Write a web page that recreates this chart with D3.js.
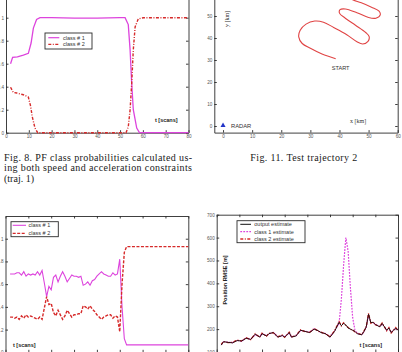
<!DOCTYPE html>
<html>
<head>
<meta charset="utf-8">
<script src="https://cdn.jsdelivr.net/npm/d3@7"></script>
<style>
  body { margin: 0; background: #fff; }
  svg { display: block; }
  .frame path.domain, .frame .tick line { stroke: #2a2a2a; stroke-width: 0.9; }
  .frame .tick text { font-family: "Liberation Sans", Arial, sans-serif; font-size: 4.6px; fill: #555; }
  .lbl { font-family: "Liberation Sans", Arial, sans-serif; font-size: 5.5px; fill: #333; }
  .bold { font-weight: bold; fill: #222; }
  .serif { font-family: "Liberation Serif", "Times New Roman", serif; }
  .caption { font-family: "Liberation Serif", "Times New Roman", serif; font-size: 10px; fill: #1a1a1a; }
</style>
</head>
<body>
<svg id="page" width="402" height="352"></svg>
<script>
// ---- Fig. 8 data (PF class probabilities, traj. 1)
var p1Class1T = [2, 2.9, 5, 7.6, 9.8, 11, 12, 13.4, 14.9, 20, 30, 40, 50, 52.2, 53.6, 54.4, 55.1, 55.8, 57.3, 58.5, 70, 80];
var p1Class1V = [0.60, 0.655, 0.66, 0.675, 0.69, 0.78, 0.91, 0.985, 1.0, 1.0, 0.997, 0.996, 1.0, 1.0, 0.94, 0.72, 0.43, 0.2, 0.04, 0, 0, 0];
var p1Class2T = [2, 3.2, 4.7, 7.6, 9.8, 10.8, 11.5, 12.7, 13.9, 20, 30, 40, 50, 52.6, 53.6, 54.4, 55.1, 55.8, 56.6, 58, 60.2, 70, 80];
var p1Class2V = [0.395, 0.35, 0.345, 0.33, 0.31, 0.23, 0.14, 0.04, 0, 0, 0, 0, 0, 0, 0.05, 0.2, 0.43, 0.72, 0.92, 0.99, 1.0, 1.0, 1.0];
var probTicks = [0, 0.2, 0.4, 0.6, 0.8, 1];
var scanTicks = [0, 10, 20, 30, 40, 50, 60, 70, 80];

// ---- Fig. 11 data (test trajectory 2, km)
var trajX = [38.7, 34, 30, 27.2, 26, 26.5, 28.5, 31.5, 34.5, 38, 42.5, 46, 48, 49.8, 50.2, 49, 45.5, 42, 40, 40.2, 42, 46, 50, 52.5, 54, 53.6, 51, 47.5, 44.7, 42.5];
var trajY = [30.6, 32.7, 35.3, 37.5, 40.5, 43.5, 46.3, 47.7, 47.2, 44.8, 41.5, 38.3, 37.3, 38.5, 40.6, 42.5, 45.8, 49, 51.3, 52.9, 53.2, 51.5, 49.3, 49, 50.5, 52.2, 54, 56, 57.3, 58.7];
var kmTicks = [0, 10, 20, 30, 40, 50, 60];
var radar = [0, 0];

// ---- bottom-left data (class probabilities)
var p3Scans = [2, 3, 4, 5, 6, 7, 8, 9, 10, 11, 12, 13, 14, 15, 16, 17, 18, 19, 20, 21, 22, 23, 24, 25, 26, 27, 28, 29, 30, 31, 32, 33, 34, 35, 36, 37, 38, 39, 40, 41, 42, 43, 44, 45, 46, 47, 48, 49, 50, 51, 52, 53, 80];
var p3Class1 = [0.69, 0.69, 0.69, 0.70, 0.70, 0.68, 0.71, 0.67, 0.69, 0.68, 0.69, 0.68, 0.71, 0.68, 0.72,
  0.61, 0.49, 0.58, 0.55, 0.66, 0.68, 0.62, 0.67, 0.71, 0.67, 0.62, 0.65, 0.68, 0.67, 0.67, 0.66, 0.67,
  0.59, 0.60, 0.62, 0.59, 0.63, 0.64, 0.67, 0.69, 0.71, 0.69, 0.68, 0.67, 0.67, 0.70, 0.68, 0.69,
  0.82, 0.40, 0.12, 0.065, 0.065];
var p3Class2 = [0.31, 0.31, 0.30, 0.31, 0.29, 0.32, 0.30, 0.33, 0.31, 0.32, 0.31, 0.30, 0.29, 0.31, 0.29,
  0.39, 0.49, 0.42, 0.43, 0.35, 0.32, 0.37, 0.33, 0.29, 0.32, 0.37, 0.34, 0.31, 0.33, 0.33, 0.34, 0.34,
  0.41, 0.40, 0.38, 0.41, 0.38, 0.36, 0.33, 0.31, 0.29, 0.31, 0.32, 0.33, 0.33, 0.30, 0.32, 0.31,
  0.18, 0.60, 0.88, 0.93, 0.93];

// ---- bottom-right data (position RMSE, m)
var p4Scans = [2, 3, 5, 7, 9, 11, 13, 15, 17, 19, 20, 22, 23, 25, 27, 29, 30, 32, 33, 35, 37, 39, 41, 43, 45, 46, 48, 50, 52, 54,
  55, 56, 57, 58, 59, 60, 61, 62, 64, 65, 66, 67, 68, 69, 70, 72, 73, 75, 76, 77, 79, 80];
var outputRmse = [130, 145, 142, 140, 150, 148, 160, 155, 178, 165, 180, 170, 180, 185, 165, 172, 165, 185, 165, 170, 195, 190, 185, 200, 192, 185, 180, 165, 190, 230,
  215, 225, 218, 205, 200, 195, 190, 180, 175, 190, 210, 265, 228, 230, 220, 210, 225, 195, 205, 185, 205, 195];
var class1Rmse = [132, 144, 143, 141, 151, 147, 161, 156, 176, 166, 181, 171, 179, 186, 166, 171, 166, 184, 166, 171, 194, 191, 186, 201, 191, 186, 181, 166, 192, 225,
  330, 480, 600, 540, 380, 250, 195, 182, 176, 189, 209, 262, 229, 229, 221, 211, 224, 196, 204, 186, 204, 196];
var class2Rmse = [133, 146, 141, 142, 152, 149, 162, 154, 180, 164, 182, 169, 182, 184, 167, 174, 164, 187, 166, 172, 197, 189, 186, 203, 190, 187, 179, 167, 193, 233,
  214, 228, 216, 207, 199, 197, 188, 182, 176, 192, 212, 270, 226, 232, 219, 212, 227, 193, 207, 183, 207, 193];
var rmseTicks = [100, 200, 300, 400, 500, 600, 700];

var magenta = '#dd44dd';
var red = '#d62a2a';

var svg = d3.select('#page');

// Matlab style box with inward ticks
function frame(g, x, y, xt, yt, xfmt, yfmt) {
  var xr = x.range(), yr = y.range();
  g.append('g').attr('class', 'frame')
    .attr('transform', `translate(0,${yr[0]})`)
    .call(d3.axisBottom(x).tickValues(xt).tickSize(-2.5).tickSizeOuter(0).tickPadding(2.2).tickFormat(xfmt));
  g.append('g').attr('class', 'frame')
    .attr('transform', `translate(0,${yr[1]})`)
    .call(d3.axisTop(x).tickValues(xt).tickSize(-2.5).tickSizeOuter(0).tickFormat(''));
  g.append('g').attr('class', 'frame')
    .attr('transform', `translate(${xr[0]},0)`)
    .call(d3.axisLeft(y).tickValues(yt).tickSize(-2.5).tickSizeOuter(0).tickPadding(2).tickFormat(yfmt));
  g.append('g').attr('class', 'frame')
    .attr('transform', `translate(${xr[1]},0)`)
    .call(d3.axisRight(y).tickValues(yt).tickSize(-2.5).tickSizeOuter(0).tickFormat(''));
}

function legend(g, x0, y0, w, h, items) {
  g.append('rect')
    .attr('x', x0).attr('y', y0).attr('width', w).attr('height', h)
    .attr('fill', '#fff').attr('stroke', '#2a2a2a').attr('stroke-width', 0.9);
  items.forEach(function(it) {
    g.append('line')
      .attr('x1', it.x1).attr('x2', it.x2).attr('y1', it.y).attr('y2', it.y)
      .attr('stroke', it.color).attr('stroke-width', it.width)
      .attr('stroke-dasharray', it.dash || null);
    g.append('text').attr('class', 'lbl')
      .attr('x', it.tx).attr('y', it.y + 2).text(it.label);
  });
}

var numFmt = d => String(d);

// ---- Panel 1: top-left
var x1 = d3.scaleLinear().domain([0, 80]).range([6, 188.5]);
var y1 = d3.scaleLinear().domain([0, 1.2]).range([132.7, -5.3]);
var g1 = svg.append('g');
frame(g1, x1, y1, scanTicks, probTicks, numFmt, numFmt);

g1.append('path')
  .datum(d3.zip(p1Class1T, p1Class1V))
  .attr('d', d3.line().x(d => x1(d[0])).y(d => y1(d[1])))
  .attr('fill', 'none').attr('stroke', magenta).attr('stroke-width', 1.3);
g1.append('path')
  .datum(d3.zip(p1Class2T, p1Class2V))
  .attr('d', d3.line().x(d => x1(d[0])).y(d => y1(d[1])))
  .attr('fill', 'none').attr('stroke', red).attr('stroke-width', 1.4)
  .attr('stroke-dasharray', '3,1.5,1,1.5');

legend(g1, 45, 33, 47, 16, [
  { x1: 48.3, x2: 59.3, y: 37.7, color: magenta, width: 1.2, tx: 63, label: 'class # 1' },
  { x1: 48.3, x2: 59.3, y: 44.3, color: red, width: 1.3, dash: '3,1.5,1,1.5', tx: 63, label: 'class # 2' }
]);
g1.append('text').attr('class', 'lbl bold').attr('x', 155).attr('y', 122).text('t [scans]');

// ---- Panel 2: top-right (trajectory)
var x2 = d3.scaleLinear().domain([-3, 60]).range([214.3, 397.7]);
var y2 = d3.scaleLinear().domain([-3, 60]).range([132.6, -6]);
var g2 = svg.append('g');
frame(g2, x2, y2, kmTicks, kmTicks, numFmt, numFmt);

g2.append('path')
  .datum(d3.zip(trajX, trajY))
  .attr('d', d3.line().x(d => x2(d[0])).y(d => y2(d[1])).curve(d3.curveCatmullRom))
  .attr('fill', 'none').attr('stroke', '#e04444').attr('stroke-width', 1.1);

g2.append('path')
  .attr('d', d3.symbol(d3.symbolTriangle, 11)())
  .attr('transform', `translate(${x2(radar[0])},${y2(radar[1]) - 0.5})`)
  .attr('fill', '#2234c8');
g2.append('text').attr('class', 'lbl').attr('x', 231).attr('y', 127.8).style('font-size', '5.8px').text('RADAR');
g2.append('text').attr('class', 'lbl').attr('x', 331.7).attr('y', 70.2).style('font-size', '5.6px').text('START');
g2.append('text').attr('class', 'lbl serif').attr('x', 350).attr('y', 123.2).style('font-size', '6px').text('x  [km]');
g2.append('text').attr('class', 'lbl serif')
  .attr('transform', 'translate(228.5,19) rotate(-90)')
  .attr('text-anchor', 'middle').style('font-size', '6px').text('y  [km]');

// ---- Panel 3: bottom-left
var x3 = d3.scaleLinear().domain([0, 80]).range([5.5, 188.3]);
var y3 = d3.scaleLinear().domain([0, 1.2]).range([352.3, 216]);
var g3 = svg.append('g');
frame(g3, x3, y3, scanTicks, probTicks, numFmt, numFmt);

g3.append('path')
  .datum(d3.zip(p3Scans, p3Class1))
  .attr('d', d3.line().x(d => x3(d[0])).y(d => y3(d[1])))
  .attr('fill', 'none').attr('stroke', magenta).attr('stroke-width', 1.1);
g3.append('path')
  .datum(d3.zip(p3Scans, p3Class2))
  .attr('d', d3.line().x(d => x3(d[0])).y(d => y3(d[1])))
  .attr('fill', 'none').attr('stroke', red).attr('stroke-width', 1.4)
  .attr('stroke-dasharray', '3,1.5');

legend(g3, 11, 221.7, 47.3, 15, [
  { x1: 12.7, x2: 26, y: 225.3, color: magenta, width: 1.1, tx: 28.5, label: 'class # 1' },
  { x1: 12.7, x2: 26, y: 233.3, color: red, width: 1.3, dash: '3,1.5', tx: 28.5, label: 'class # 2' }
]);
g3.append('text').attr('class', 'lbl bold').attr('x', 13).attr('y', 346.5).text('t [scans]');

// ---- Panel 4: bottom-right
var x4 = d3.scaleLinear().domain([0, 80]).range([216.7, 398]);
var y4 = d3.scaleLinear().domain([100, 700]).range([352, 214.7]);
var g4 = svg.append('g');
frame(g4, x4, y4, scanTicks, rmseTicks, numFmt, numFmt);

var rmseLine = d3.line().x(d => x4(d[0])).y(d => y4(d[1]));
g4.append('path')
  .datum(d3.zip(p4Scans, class1Rmse))
  .attr('d', rmseLine)
  .attr('fill', 'none').attr('stroke', magenta).attr('stroke-width', 1.2)
  .attr('stroke-dasharray', '1.8,1.2');
g4.append('path')
  .datum(d3.zip(p4Scans, class2Rmse))
  .attr('d', rmseLine)
  .attr('fill', 'none').attr('stroke', red).attr('stroke-width', 1.3)
  .attr('stroke-dasharray', '3,1.5,1,1.5');
g4.append('path')
  .datum(d3.zip(p4Scans, outputRmse))
  .attr('d', rmseLine)
  .attr('fill', 'none').attr('stroke', '#2a1010').attr('stroke-width', 1);

legend(g4, 237, 220.7, 68, 22, [
  { x1: 240.3, x2: 251, y: 224.3, color: '#111', width: 1, tx: 254.3, label: 'output estimate' },
  { x1: 240.3, x2: 251, y: 231.7, color: magenta, width: 1.2, dash: '1.8,1.2', tx: 254.3, label: 'class 1 estimate' },
  { x1: 240.3, x2: 251, y: 239, color: red, width: 1.3, dash: '3,1.5,1,1.5', tx: 254.3, label: 'class 2 estimate' }
]);
g4.append('text').attr('class', 'lbl bold').attr('x', 359.5).attr('y', 347).text('t [scans]');
g4.append('text').attr('class', 'lbl bold')
  .attr('transform', 'translate(227.3,280) rotate(-90)')
  .attr('text-anchor', 'middle').text('Position RMSE [m]');

// ---- captions
var capLines = [
  { text: 'Fig. 8. PF class probabilities calculated us-', x: 4, y: 160.8, w: 188 },
  { text: 'ing both speed and acceleration constraints', x: 4, y: 171.3, w: 188 },
  { text: '(traj. 1)', x: 4, y: 181.6, w: null },
  { text: 'Fig. 11. Test trajectory 2', x: 250.3, y: 160.5, w: 107 }
];
svg.selectAll('text.caption')
  .data(capLines)
  .enter()
  .append('text')
  .attr('class', 'caption')
  .attr('x', d => d.x)
  .attr('y', d => d.y)
  .attr('textLength', d => d.w)
  .attr('lengthAdjust', 'spacing')
  .text(d => d.text);
</script>
</body>
</html>
